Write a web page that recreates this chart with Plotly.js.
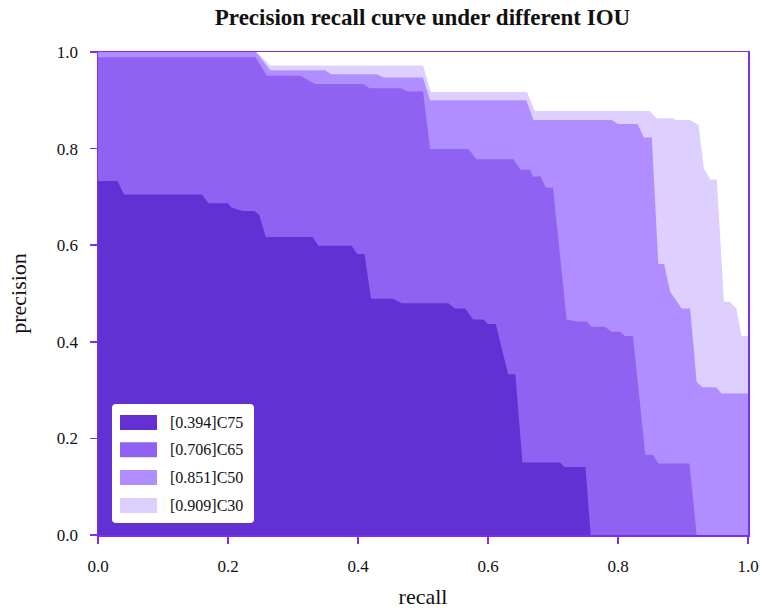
<!DOCTYPE html>
<html>
<head>
<meta charset="utf-8">
<script src="https://cdn.plot.ly/plotly-3.0.1.min.js"></script>
<style>html,body{margin:0;padding:0;background:#fff;}#chart{width:762px;height:610px;}</style>
</head>
<body>
<div id="chart"></div>
<script>
// Series names (legend labels)
const seriesNames = ["[0.394]C75", "[0.706]C65", "[0.851]C50", "[0.909]C30"];

// C75
const recallC75 = [0, 0.03, 0.04, 0.16, 0.17, 0.20, 0.205, 0.222, 0.24, 0.248, 0.258, 0.33, 0.339, 0.39, 0.399, 0.41, 0.42, 0.454, 0.467, 0.539, 0.549, 0.565, 0.577, 0.593, 0.60, 0.612, 0.631, 0.642, 0.653, 0.711, 0.718, 0.75, 0.758];
const precisionC75 = [0.733, 0.733, 0.705, 0.705, 0.687, 0.687, 0.678, 0.671, 0.671, 0.663, 0.617, 0.617, 0.599, 0.599, 0.582, 0.582, 0.489, 0.489, 0.480, 0.480, 0.469, 0.469, 0.446, 0.446, 0.437, 0.437, 0.333, 0.333, 0.150, 0.150, 0.141, 0.141, 0];

// C65
const recallC65 = [0, 0.242, 0.26, 0.311, 0.334, 0.408, 0.418, 0.465, 0.477, 0.50, 0.511, 0.57, 0.582, 0.639, 0.65, 0.665, 0.669, 0.681, 0.689, 0.70, 0.721, 0.737, 0.752, 0.759, 0.78, 0.79, 0.803, 0.811, 0.823, 0.842, 0.854, 0.862, 0.91, 0.921];
const precisionC65 = [0.989, 0.989, 0.951, 0.951, 0.934, 0.934, 0.925, 0.925, 0.918, 0.918, 0.799, 0.799, 0.778, 0.778, 0.756, 0.756, 0.742, 0.742, 0.719, 0.719, 0.446, 0.442, 0.442, 0.431, 0.431, 0.421, 0.421, 0.412, 0.412, 0.166, 0.166, 0.148, 0.148, 0];

// C50
const recallC50 = [0, 0.243, 0.265, 0.349, 0.359, 0.429, 0.439, 0.50, 0.511, 0.659, 0.67, 0.79, 0.80, 0.83, 0.84, 0.852, 0.862, 0.871, 0.88, 0.898, 0.911, 0.921, 0.93, 0.951, 0.959, 1.0];
const precisionC50 = [1.0, 1.0, 0.962, 0.962, 0.954, 0.954, 0.947, 0.947, 0.90, 0.90, 0.859, 0.859, 0.851, 0.851, 0.823, 0.823, 0.561, 0.561, 0.504, 0.469, 0.469, 0.317, 0.306, 0.306, 0.293, 0.293];

// C30
const recallC30 = [0, 0.244, 0.265, 0.50, 0.512, 0.66, 0.672, 0.849, 0.859, 0.885, 0.888, 0.911, 0.924, 0.932, 0.942, 0.952, 0.963, 0.972, 0.982, 0.99, 1.0];
const precisionC30 = [1.0, 1.0, 0.972, 0.972, 0.917, 0.917, 0.878, 0.878, 0.863, 0.863, 0.859, 0.859, 0.849, 0.759, 0.736, 0.736, 0.483, 0.483, 0.469, 0.412, 0.412];

// Tick values / labels
const tickVals = [0, 0.2, 0.4, 0.6, 0.8, 1.0];
const tickLabels = ["0.0", "0.2", "0.4", "0.6", "0.8", "1.0"];

const fillColors = ["#6330d4", "#8f62f2", "#b18eff", "#ddd0ff"];
const axisColor = "#7a2ff5";
const serif = "Liberation Serif, DejaVu Serif, serif";

const recalls = [recallC75, recallC65, recallC50, recallC30];
const precisions = [precisionC75, precisionC65, precisionC50, precisionC30];

const traces = [];
for (let i = 3; i >= 0; i--) {
  traces.push({
    x: recalls[i],
    y: precisions[i],
    name: seriesNames[i],
    type: "scatter",
    mode: "lines",
    line: {width: 0, color: fillColors[i], shape: "linear"},
    fill: "tozeroy",
    fillcolor: fillColors[i],
    hoverinfo: "skip",
    showlegend: false
  });
}

// Custom legend (box, swatches, labels) in paper coordinates
const plotL = 98, plotT = 52, plotW = 650, plotH = 483;
const px = v => (v - plotL) / plotW;
const py = v => (plotT + plotH - v) / plotH;

const shapes = [];
const annotations = [];
{
  const x0 = px(112), x1 = px(254), y0 = py(523), y1 = py(404);
  const rx = 4 / plotW, ry = 4 / plotH;
  shapes.push({
    type: "path", xref: "paper", yref: "paper",
    path: `M ${x0 + rx} ${y0} L ${x1 - rx} ${y0} Q ${x1} ${y0} ${x1} ${y0 + ry} L ${x1} ${y1 - ry} Q ${x1} ${y1} ${x1 - rx} ${y1} L ${x0 + rx} ${y1} Q ${x0} ${y1} ${x0} ${y1 - ry} L ${x0} ${y0 + ry} Q ${x0} ${y0} ${x0 + rx} ${y0} Z`,
    fillcolor: "#ffffff", line: {width: 0}, layer: "above"
  });
  const rowCenters = [422.5, 449.8, 477.5, 505.5];
  for (let i = 0; i < 4; i++) {
    const c = rowCenters[i];
    shapes.push({
      type: "rect", xref: "paper", yref: "paper",
      x0: px(120), x1: px(157), y0: py(c + 7.5), y1: py(c - 7.5),
      fillcolor: fillColors[i], line: {width: 0}, layer: "above"
    });
    annotations.push({
      xref: "paper", yref: "paper", x: px(168), y: py(c),
      xanchor: "left", yanchor: "middle", showarrow: false,
      text: seriesNames[i],
      font: {family: serif, size: 16, color: "#111"}
    });
  }
}

const axisCommon = {
  range: [0, 1],
  tickvals: tickVals,
  ticktext: tickLabels,
  showgrid: false,
  zeroline: false,
  showline: true,
  mirror: true,
  linecolor: axisColor,
  linewidth: 1.5,
  ticks: "outside",
  ticklen: 7,
  tickwidth: 1.5,
  tickcolor: axisColor,
  tickfont: {family: serif, size: 17, color: "#111"}
};

const layout = {
  width: 762,
  height: 610,
  margin: {l: 98, r: 14, t: 52, b: 75},
  paper_bgcolor: "#fff",
  plot_bgcolor: "#fff",
  title: {
    text: "<b>Precision recall curve under different IOU</b>",
    font: {family: serif, size: 23, color: "#111"},
    x: 0.5545, xanchor: "center", y: 0.972, yanchor: "middle"
  },
  xaxis: Object.assign({}, axisCommon, {
    ticklabelstandoff: 8,
    title: {text: "recall", font: {family: serif, size: 22, color: "#111"}, standoff: 13}
  }),
  yaxis: Object.assign({}, axisCommon, {
    ticklabelstandoff: 8,
    title: {text: "precision", font: {family: serif, size: 22, color: "#111"}, standoff: 24}
  }),
  shapes: shapes,
  annotations: annotations,
  showlegend: false
};

Plotly.newPlot("chart", traces, layout, {displayModeBar: false, staticPlot: true});
</script>
</body>
</html>
